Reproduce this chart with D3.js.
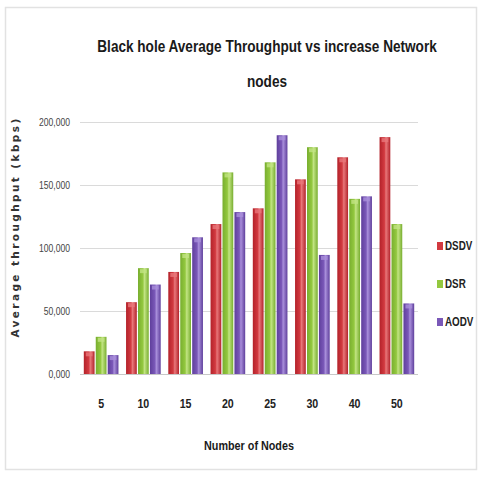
<!DOCTYPE html>
<html>
<head>
<meta charset="utf-8">
<script src="https://cdn.jsdelivr.net/npm/d3@7"></script>
<style>
  html, body { margin: 0; padding: 0; background: #fff; }
  svg { display: block; }
  .narrow { font-family: "Liberation Sans", Arial, sans-serif; }
</style>
</head>
<body>
<svg id="chart" width="482" height="477"></svg>
<script>
// Number of nodes in the network (x categories)
const nodes = ["5", "10", "15", "20", "25", "30", "40", "50"];
// Routing protocols (series)
const protocols = ["DSDV", "DSR", "AODV"];
// Average throughput (kbps) under black hole attack
const dsdv = [18000, 57000, 81000, 119000, 131500, 154500, 172000, 188000];
const dsr  = [29500, 84000, 96000, 160000, 168000, 180000, 139000, 119000];
const aodv = [15000, 71000, 108500, 128500, 189500, 94500, 141000, 56000];
// Y axis ticks
const yTicks = [0, 50000, 100000, 150000, 200000];

const seriesValues = { DSDV: dsdv, DSR: dsr, AODV: aodv };
const palette = {
  DSDV: { dark: "#b3222a", mid: "#d23a40", light: "#e8777a" },
  DSR:  { dark: "#78ae2f", mid: "#93c83f", light: "#c2e483" },
  AODV: { dark: "#5f3f9c", mid: "#7a58b8", light: "#a98fdb" }
};

const svg = d3.select("#chart");

// condensed text: horizontally squeezed label anchored at (cx, cy)
function narrowText(parent, cx, cy, str, size, sx, opts = {}) {
  const g = parent.append("g").attr("transform", `translate(${cx},${cy}) scale(${sx},1)`);
  return g.append("text").attr("class", "narrow")
    .attr("text-anchor", opts.anchor || "middle")
    .attr("dy", opts.dy || "0.35em")
    .attr("font-size", size)
    .attr("font-weight", opts.weight || "bold")
    .attr("fill", opts.fill || "#1a1a1a")
    .text(str);
}

// outer frame
svg.append("rect")
  .attr("x", 5.5).attr("y", 7.5)
  .attr("width", 471).attr("height", 462)
  .attr("fill", "#fff").attr("stroke", "#e2e2e2").attr("stroke-width", 1.5);

const defs = svg.append("defs");
protocols.forEach(p => {
  const g = defs.append("linearGradient")
    .attr("id", "grad-" + p).attr("x1", "0%").attr("x2", "100%").attr("y1", "0%").attr("y2", "0%");
  g.append("stop").attr("offset", "0%").attr("stop-color", palette[p].dark);
  g.append("stop").attr("offset", "45%").attr("stop-color", palette[p].mid);
  g.append("stop").attr("offset", "60%").attr("stop-color", palette[p].light);
  g.append("stop").attr("offset", "100%").attr("stop-color", palette[p].dark);
});

const plot = { left: 80, right: 418, top: 122, bottom: 374 };

const x = d3.scaleBand().domain(nodes)
  .range([plot.left, plot.right]).paddingInner(0.18).paddingOuter(0.09);
const xs = d3.scaleBand().domain(protocols)
  .range([0, x.bandwidth()]).paddingInner(0.1);
const y = d3.scaleLinear().domain([0, 200000]).range([plot.bottom, plot.top]);

// gridlines
svg.append("g").selectAll("line").data(yTicks).join("line")
  .attr("x1", plot.left).attr("x2", plot.right)
  .attr("y1", d => Math.round(y(d)) + 0.5).attr("y2", d => Math.round(y(d)) + 0.5)
  .attr("stroke", d => d === 0 ? "#c8c8c8" : "#dadada").attr("stroke-width", 1.2);

// y tick labels
const yLab = svg.append("g");
yTicks.forEach(t => {
  narrowText(yLab, 70, y(t), d3.format(",.3f")(t / 1000).replace(".", ","), 11, 0.78,
    { anchor: "end", weight: "normal", fill: "#444" });
});

// bars
const groups = svg.append("g").selectAll("g").data(nodes).join("g")
  .attr("transform", d => `translate(${x(d)},0)`);

groups.selectAll("rect.bar")
  .data((d, i) => protocols.map(p => ({ p, v: seriesValues[p][i] })))
  .join("rect").attr("class", "bar")
  .attr("x", d => xs(d.p)).attr("width", xs.bandwidth())
  .attr("y", d => y(d.v)).attr("height", d => y(0) - y(d.v))
  .attr("fill", d => `url(#grad-${d.p})`);

// bar caps
groups.selectAll("rect.cap")
  .data((d, i) => protocols.map(p => ({ p, v: seriesValues[p][i] })))
  .join("rect").attr("class", "cap")
  .attr("x", d => xs(d.p) + 2).attr("width", xs.bandwidth() - 4)
  .attr("y", d => y(d.v) + 1).attr("height", 4)
  .attr("fill", d => palette[d.p].light).attr("opacity", 0.8);

// x tick labels
const xLab = svg.append("g");
nodes.forEach(n => {
  narrowText(xLab, x(n) + x.bandwidth() / 2, 403, n, 13, 0.82, { fill: "#222" });
});

// title
narrowText(svg, 267, 46, "Black hole Average Throughput vs increase Network", 17, 0.8);
narrowText(svg, 267, 81, "nodes", 17, 0.8);

// axis titles
narrowText(svg, 249, 445, "Number of Nodes", 13.5, 0.8);

svg.append("text")
  .attr("transform", "translate(15,227) rotate(-90)")
  .attr("dy", "0.35em").attr("text-anchor", "middle")
  .attr("font-family", "DejaVu Sans, sans-serif").attr("font-size", 10.5)
  .attr("font-weight", "bold").attr("letter-spacing", 2.4)
  .attr("fill", "#333").text("Average throughput (kbps)");

// legend
const legend = svg.append("g").selectAll("g").data(protocols).join("g")
  .attr("transform", (d, i) => `translate(437,${246 + i * 38})`);
legend.append("rect").attr("x", 0).attr("y", -4).attr("width", 6).attr("height", 8)
  .attr("fill", d => palette[d].mid);
legend.each(function (d) {
  narrowText(d3.select(this), 8, 0, d, 12, 0.82, { anchor: "start", fill: "#222" });
});
</script>
</body>
</html>
